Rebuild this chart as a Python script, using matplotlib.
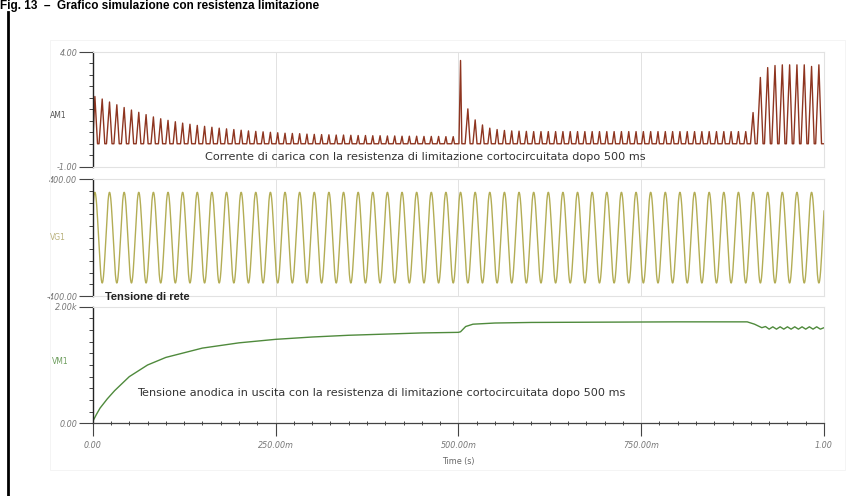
import numpy as np
import matplotlib
matplotlib.use('Agg')
import matplotlib.pyplot as plt
from matplotlib.lines import Line2D
from matplotlib.patches import Rectangle
from matplotlib.ticker import FixedLocator, MultipleLocator

# ---------------- data ----------------
# AM1: charging current pulses, one every half mains cycle
pulse_start = 0.003      # s
pulse_period = 0.010     # s
am1_peaks = [
    2.06, 1.95, 1.82, 1.70, 1.58, 1.47, 1.37, 1.27, 1.17, 1.09,
    1.02, 0.96, 0.90, 0.85, 0.80, 0.76, 0.72, 0.68, 0.65, 0.62,
    0.59, 0.56, 0.54, 0.52, 0.50, 0.48, 0.46, 0.45, 0.44, 0.42,
    0.41, 0.40, 0.39, 0.38, 0.38, 0.37, 0.36, 0.36, 0.35, 0.35,
    0.34, 0.34, 0.33, 0.33, 0.33, 0.32, 0.32, 0.32, 0.31, 0.31,
    3.63, 1.52, 1.04, 0.82, 0.68, 0.62, 0.58, 0.56, 0.55, 0.54,
    0.53, 0.53, 0.53, 0.53, 0.53, 0.53, 0.53, 0.53, 0.53, 0.53,
    0.53, 0.53, 0.53, 0.53, 0.53, 0.53, 0.53, 0.53, 0.53, 0.53,
    0.53, 0.53, 0.53, 0.53, 0.53, 0.53, 0.53, 0.53, 0.53, 0.53,
    1.36, 2.89, 3.32, 3.41, 3.44, 3.44, 3.44, 3.44, 3.37, 3.44,
]
# VG1: mains voltage
vg1_amplitude = 311.0    # V
vg1_frequency = 50.0     # Hz
# VM1: anode output voltage
vm1_time = [0.0, 0.005, 0.01, 0.02, 0.03, 0.05, 0.075, 0.10, 0.15, 0.20,
            0.25, 0.30, 0.35, 0.40, 0.45, 0.50, 0.503, 0.51, 0.52, 0.55,
            0.60, 0.70, 0.80, 0.895, 0.905, 0.915,
            0.920, 0.925, 0.930, 0.935, 0.940, 0.945, 0.950, 0.955, 0.960,
            0.965, 0.970, 0.975, 0.980, 0.985, 0.990, 0.995, 1.000]
vm1_value = [30, 150, 260, 420, 560, 800, 1000, 1130, 1290, 1380,
             1440, 1480, 1510, 1530, 1550, 1560, 1570, 1660, 1700, 1720,
             1730, 1735, 1740, 1740, 1700, 1640,
             1660, 1615, 1655, 1615, 1655, 1615, 1655, 1615, 1655,
             1615, 1655, 1615, 1655, 1615, 1655, 1615, 1640]

x_ticks = [0.0, 0.25, 0.5, 0.75, 1.0]
x_tick_labels = ['0.00', '250.00m', '500.00m', '750.00m', '1.00']

# ---------------- build current waveform from the pulse peaks ----------------
tt, ii = [0.0], [0.0]
for k, p in enumerate(am1_peaks):
    tk = pulse_start + k * pulse_period
    w = 0.003 + 0.0025 * min(p, 2.0)
    if k == 50:
        w = 0.004
    t0 = max(tk - 0.55 * w, 0.0)
    tt += [t0, tk, tk + 0.45 * w]
    ii += [0.0, p, 0.0]
tt.append(1.0); ii.append(0.0)

t_fine = np.linspace(0, 1, 6001)
vg1 = vg1_amplitude * np.cos(2 * np.pi * vg1_frequency * (t_fine - pulse_start))

# ---------------- figure ----------------
plt.rcParams['font.family'] = ['DejaVu Sans']
fig = plt.figure(figsize=(8.55, 4.96), dpi=100)

W, H = 855.0, 496.0
def fx(x):
    return x / W
def fy(y):
    return 1 - y / H

x_left, x_right = 92.7, 824.0
panels = [(52.0, 166.7), (179.3, 296.0), (306.7, 423.3)]
axes = []
for top, bot in panels:
    ax = fig.add_axes([fx(x_left), fy(bot), (x_right - x_left) / W, (bot - top) / H])
    axes.append(ax)

grid_c = '#e2e2e2'
tick_c = '#777777'
for ax in axes:
    ax.set_xlim(0, 1)
    for s in ['top', 'right', 'bottom']:
        ax.spines[s].set_color(grid_c)
        ax.spines[s].set_linewidth(0.8)
    ax.spines['left'].set_color('#222222')
    ax.spines['left'].set_linewidth(1.0)
    for xv in [0.25, 0.5, 0.75]:
        ax.axvline(xv, color=grid_c, lw=0.7, zorder=0)
    ax.tick_params(axis='y', which='major', direction='out', length=10, width=0.8,
                   color='#444444', labelsize=5.8, labelcolor=tick_c, pad=1)
    ax.tick_params(axis='y', which='minor', direction='out', length=3, width=0.7,
                   color='#444444')

ax1, ax2, ax3 = axes

# AM1
ax1.plot(tt, ii, color='#8e3520', lw=1.0)
ax1.set_ylim(-1, 4)
ax1.yaxis.set_major_locator(FixedLocator([-1, 4]))
ax1.yaxis.set_minor_locator(MultipleLocator(0.5))
ax1.set_yticklabels(['-1.00', '4.00'], fontstyle='italic')
ax1.set_xticks([])
ax1.text(0.154, 0.085, 'Corrente di carica con la resistenza di limitazione cortocircuitata dopo 500 ms',
         transform=ax1.transAxes, ha='left', va='center', fontsize=8.1, color='#333333')

# VG1
ax2.plot(t_fine, vg1, color='#b3ad55', lw=1.0)
ax2.set_ylim(-400, 400)
ax2.yaxis.set_major_locator(FixedLocator([-400, 400]))
ax2.yaxis.set_minor_locator(MultipleLocator(80))
ax2.set_yticklabels(['-400.00', '400.00'], fontstyle='italic')
ax2.set_xticks([])

# VM1
ax3.plot(vm1_time, vm1_value, color='#4f8a3c', lw=1.0)
ax3.set_ylim(0, 2000)
ax3.yaxis.set_major_locator(FixedLocator([0, 2000]))
ax3.yaxis.set_minor_locator(MultipleLocator(200))
ax3.set_yticklabels(['0.00', '2.00k'], fontstyle='italic')
ax3.spines['bottom'].set_color('#444444')
ax3.spines['bottom'].set_linewidth(0.9)
ax3.xaxis.set_major_locator(FixedLocator(x_ticks))
ax3.xaxis.set_minor_locator(MultipleLocator(0.025))
ax3.set_xticklabels(x_tick_labels, fontstyle='italic')
ax3.tick_params(axis='x', which='major', direction='out', length=9, width=0.8,
                color='#444444', labelsize=5.8, labelcolor=tick_c, pad=4)
ax3.tick_params(axis='x', which='minor', direction='inout', length=3, width=0.7,
                color='#444444')
ax3.set_xlabel('Time (s)', fontsize=5.8, color='#666666', labelpad=5)
ax3.text(0.06, 0.26, 'Tensione anodica in uscita con la resistenza di limitazione cortocircuitata dopo 500 ms',
         transform=ax3.transAxes, ha='left', va='center', fontsize=8.1, color='#333333')

# "Tensione di rete" label sitting on the lower border of the VG1 panel
fig.text(fx(105), fy(297), 'Tensione di rete', ha='left', va='center',
         fontsize=8, color='#222222', fontweight='bold', family='Liberation Sans')

# channel labels
fig.text(fx(58), fy(115), 'AM1', ha='center', va='center', fontsize=5.5, color='#555555')
fig.text(fx(58), fy(237), 'VG1', ha='center', va='center', fontsize=5.5, color='#b8b07a')
fig.text(fx(60), fy(362), 'VM1', ha='center', va='center', fontsize=5.5, color='#6e9e5e')

# faint outer frame of the chart
fig.add_artist(Rectangle((fx(50), fy(470)), (845 - 50) / W, (470 - 40) / H,
                         transform=fig.transFigure, fill=False, ec='#f4f4f4', lw=0.7))

# left black rule
fig.add_artist(Line2D([fx(8), fx(8)], [fy(12), 0.0], color='black', lw=2.0,
                      transform=fig.transFigure))

# caption at the very top
fig.text(0.0, 0.999, 'Fig. 13  \u2013  Grafico simulazione con resistenza limitazione',
         ha='left', va='top', fontsize=8.5, fontweight='bold', color='black',
         family='Liberation Sans')

fig.savefig('out.png', dpi=100)
